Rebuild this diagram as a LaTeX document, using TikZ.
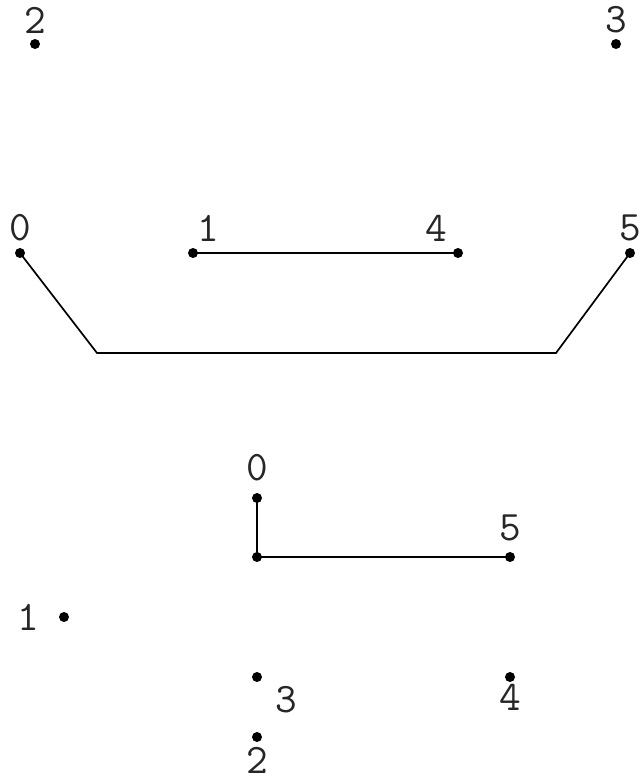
\documentclass[tikz,border=0pt]{standalone}
\usepackage{fontspec}
\begin{document}
\begin{tikzpicture}[x=1pt,y=-1pt,
  dotpt/.style={circle,fill=black,inner sep=0pt,minimum size=10pt},
  lab/.style={font=\ttfamily\fontsize{42}{42}\selectfont,inner sep=0pt,text=black!85},
  edge/.style={line width=1.7pt}]
\useasboundingbox (0,0) rectangle (641,780);
% top
\node[dotpt] (t2) at (35,44) {};
\node[dotpt] (t3) at (616,44) {};
\node[lab] (lt2) at (35,20) {2};
\node[lab] (lt3) at (616,20) {3};
% middle
\node[dotpt] (m0) at (20,253) {};
\node[dotpt] (m1) at (193,253) {};
\node[dotpt] (m4) at (458,253) {};
\node[dotpt] (m5) at (630,253) {};
\coordinate (ma) at (97,353);
\coordinate (mb) at (556,353);
\node[lab] (lm0) at (20,228) {0};
\node[lab] (lm1) at (208,228) {1};
\node[lab] (lm4) at (436,228) {4};
\node[lab] (lm5) at (630,228) {5};
\draw[edge] (m1.center) -- (m4.center);
\draw[edge] (m0.center) -- (ma) -- (mb) -- (m5.center);
% bottom
\node[dotpt] (b0) at (257,498) {};
\node[dotpt] (bc) at (257,557) {};
\node[dotpt] (b5) at (510,557) {};
\node[dotpt] (b1) at (64,617) {};
\node[dotpt] (b3) at (257,677) {};
\node[dotpt] (b4) at (510,677) {};
\node[dotpt] (b2) at (257,737) {};
\node[lab] (lb0) at (257,468) {0};
\node[lab] (lb5) at (510,528) {5};
\node[lab] (lb1) at (28,617) {1};
\node[lab] (lb3) at (286,700) {3};
\node[lab] (lb4) at (510,697) {4};
\node[lab] (lb2) at (257,760) {2};
\draw[edge] (b0.center) -- (bc.center) -- (b5.center);
\end{tikzpicture}
\end{document}
